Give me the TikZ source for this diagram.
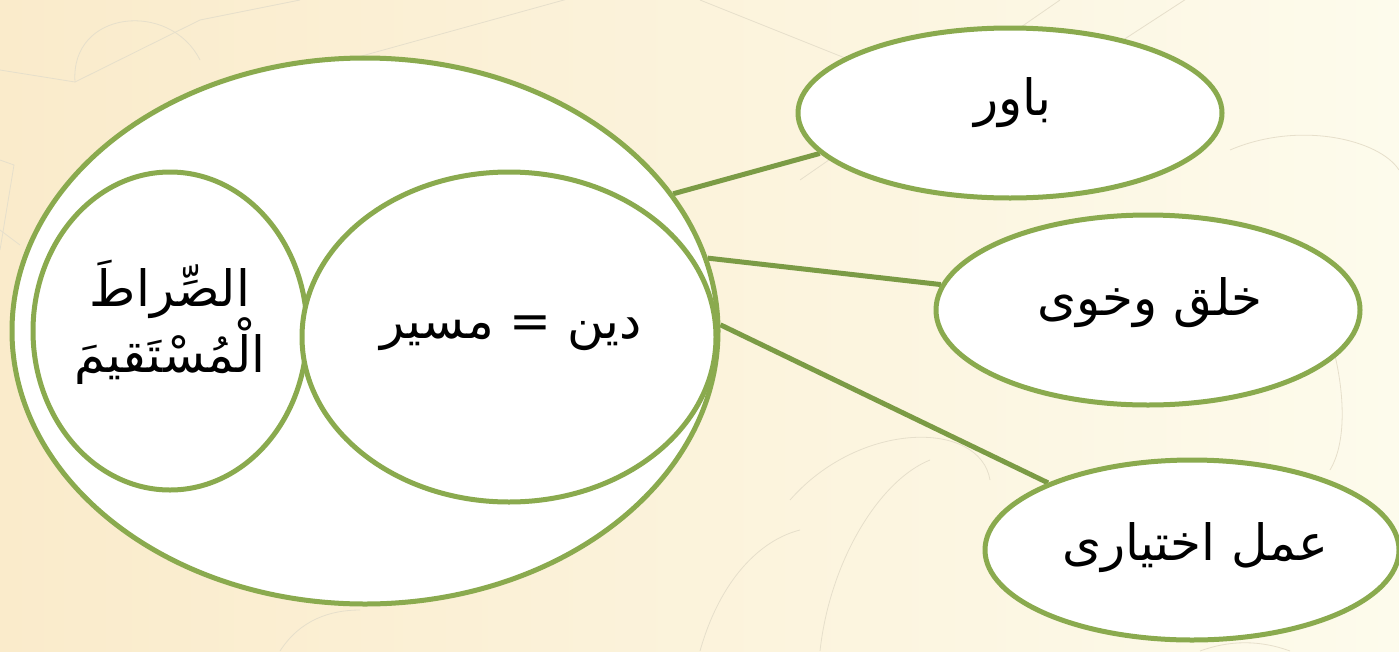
\documentclass[tikz,border=0pt]{standalone}
\usepackage{fontspec}
\newfontfamily\arabicfont[Script=Arabic]{DejaVu Sans}
\TeXXeTstate=1
\usetikzlibrary{shapes.geometric}
\pgfdeclarelayer{bg}
\pgfsetlayers{bg,main}
\definecolor{olive}{HTML}{8AAA4E}
\definecolor{oliveline}{HTML}{7B9B45}
\definecolor{bgleft}{HTML}{FAEBCB}
\definecolor{bgright}{HTML}{FDFBEC}
\definecolor{deco}{HTML}{E6DFCB}
\tikzset{
  bubble/.style={ellipse, draw=olive, line width=5pt, fill=white, inner sep=0pt},
  link/.style={draw=oliveline, line width=5pt},
  lbl/.style={font=\arabicfont\fontsize{50}{58}\selectfont, align=center},
  decoline/.style={draw=deco, line width=0.8pt}
}
\begin{document}
\begin{tikzpicture}[x=1pt,y=-1pt]
\useasboundingbox (0,0) rectangle (1399,651);
\begin{pgfonlayer}{bg}
\shade[left color=bgleft, right color=bgright] (0,0) rectangle (1399,651);
% faint decorative pattern
\draw[decoline] (0,70) -- (75,82) -- (200,20) -- (300,0);
\draw[decoline] (75,82) .. controls (70,10) and (170,0) .. (200,60);
\draw[decoline] (340,62) -- (600,-10);
\draw[decoline] (700,0) -- (1000,120) -- (1200,-10);
\draw[decoline] (1060,0) -- (800,180);
\draw[decoline] (0,160) -- (14,165) -- (0,250);
\draw[decoline] (0,230) -- (20,245);
\draw[decoline] (1230,150) .. controls (1300,120) and (1380,140) .. (1399,170);
\draw[decoline] (1290,260) .. controls (1330,300) and (1360,420) .. (1330,470);
\draw[decoline] (790,500) .. controls (860,420) and (980,420) .. (990,480);
\draw[decoline] (820,651) .. controls (830,560) and (880,480) .. (930,460);
\draw[decoline] (700,651) .. controls (720,580) and (760,540) .. (800,530);
\draw[decoline] (280,651) .. controls (300,620) and (330,610) .. (360,610);
\draw[decoline] (1200,651) .. controls (1230,640) and (1260,640) .. (1290,651);
\end{pgfonlayer}
% nodes
\node[bubble, minimum width=706, minimum height=546] (outer) at (365,331) {};
\node[bubble, minimum width=274, minimum height=318] (sirat) at (170,331) {};
\node[bubble, minimum width=414, minimum height=330] (din) at (509,337) {};
\node[bubble, minimum width=424, minimum height=170] (bawar) at (1010,113) {};
\node[bubble, minimum width=424, minimum height=190] (khulq) at (1148,310) {};
\node[bubble, minimum width=414, minimum height=180] (amal) at (1192,550) {};
% connectors
\begin{pgfonlayer}{bg}
\draw[link] (outer.24.2) -- (bawar.192.1);
\draw[link] (outer.12.8) -- (khulq.173);
\draw[link] (outer.1.8) -- (amal.155);
\end{pgfonlayer}
\node[lbl] (siratlbl) at (170,322) {\beginR الصِّراطَ\endR\\[-2pt]\beginR الْمُسْتَقیمَ\endR};
\node[lbl] (dinlbl) at (511,333) {\beginR دین = مسیر\endR};
\node[lbl] (bawarlbl) at (1013,103) {\beginR باور\endR};
\node[lbl] (khulqlbl) at (1150,303) {\beginR خلق وخوی\endR};
\node[lbl] (amallbl) at (1195,548) {\beginR عمل اختیاری\endR};
\end{tikzpicture}
\end{document}
